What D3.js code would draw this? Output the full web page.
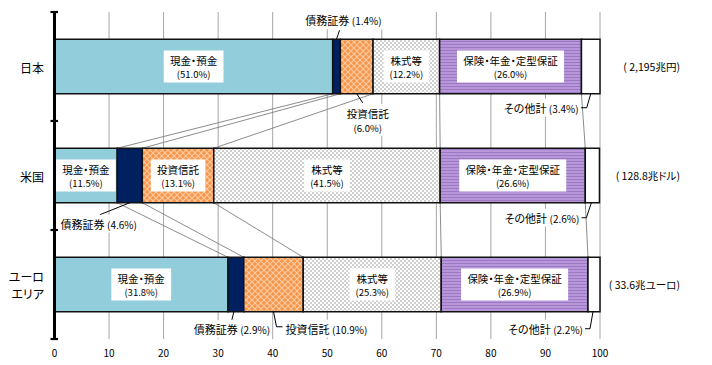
<!DOCTYPE html>
<html>
<head>
<meta charset="utf-8">
<script src="https://cdn.jsdelivr.net/npm/d3@7"></script>
<style>
  body { margin: 0; background: #fff; }
  svg text { font-family: "Noto Sans CJK JP", sans-serif; font-feature-settings: "palt"; fill: #000; }
</style>
</head>
<body>
<div id="chart"></div>
<script>
// data
const rows = ["日本", "米国", "ユーロエリア"];
const rowLabels = [["日本"], ["米国"], ["ユーロ", "エリア"]];
const seriesNames = ["現金・預金", "債務証券", "投資信託", "株式等", "保険・年金・定型保証", "その他計"];
const japan = [51.0, 1.4, 6.0, 12.2, 26.0, 3.4];
const us = [11.5, 4.6, 13.1, 41.5, 26.6, 2.6];
const euro = [31.8, 2.9, 10.9, 25.3, 26.9, 2.2];
const totals = ["( 2,195兆円)", "( 128.8兆ドル)", "( 33.6兆ユーロ)"];
const xTicks = [0, 10, 20, 30, 40, 50, 60, 70, 80, 90, 100];

const values = [japan, us, euro];

// size
const W = 712, H = 365;
const svg = d3.select("#chart").append("svg")
  .attr("width", W).attr("height", H);

const x = d3.scaleLinear().domain([0, 100]).range([54.5, 600]);
const y = d3.scaleBand().domain(rows).range([12, 339])
  .paddingInner(0.5).paddingOuter(0.25);

// patterns
const defs = svg.append("defs");
const pIT = defs.append("pattern").attr("id", "pat-it")
  .attr("patternUnits", "userSpaceOnUse").attr("width", 6).attr("height", 6);
pIT.append("rect").attr("width", 6).attr("height", 6).attr("fill", "#f7964a");
pIT.append("path").attr("d", "M0,0 L6,6 M6,0 L0,6")
  .attr("stroke", "#fcc9a0").attr("stroke-width", 1.2);

const pSt = defs.append("pattern").attr("id", "pat-st")
  .attr("patternUnits", "userSpaceOnUse").attr("width", 4).attr("height", 4);
pSt.append("rect").attr("width", 4).attr("height", 4).attr("fill", "#fff");
pSt.append("rect").attr("width", 2).attr("height", 2).attr("fill", "#cfcfcf");
pSt.append("rect").attr("x", 2).attr("y", 2).attr("width", 2).attr("height", 2).attr("fill", "#cfcfcf");

const pIn = defs.append("pattern").attr("id", "pat-in")
  .attr("patternUnits", "userSpaceOnUse").attr("width", 4).attr("height", 3);
pIn.append("rect").attr("width", 4).attr("height", 3).attr("fill", "#b796d9");
pIn.append("rect").attr("y", 2).attr("width", 4).attr("height", 1).attr("fill", "#9c79c3");

const fills = ["#92cddc", "#002060", "url(#pat-it)", "url(#pat-st)", "url(#pat-in)", "#ffffff"];

// grid
svg.append("g").selectAll("line").data(xTicks.slice(1)).join("line")
  .attr("x1", d => x(d)).attr("x2", d => x(d))
  .attr("y1", 12).attr("y2", 339)
  .attr("stroke", "#a6a6a6").attr("stroke-width", 1);

// stack
const segs = [];
values.forEach((vals, r) => {
  let acc = 0;
  vals.forEach((v, s) => {
    segs.push({ row: r, s: s, v: v, x0: acc, x1: Math.min(acc + v, 100) });
    acc += v;
  });
});

// series connector lines
const conn = svg.append("g");
for (let r = 0; r < rows.length - 1; r++) {
  let a = 0, b = 0;
  for (let s = 0; s < seriesNames.length - 1; s++) {
    a += values[r][s]; b += values[r + 1][s];
    conn.append("line")
      .attr("x1", x(a)).attr("y1", y(rows[r]) + y.bandwidth())
      .attr("x2", x(b)).attr("y2", y(rows[r + 1]))
      .attr("stroke", "#7f7f7f").attr("stroke-width", 0.9);
  }
}

// bars
svg.append("g").selectAll("rect").data(segs).join("rect")
  .attr("x", d => x(d.x0))
  .attr("y", d => y(rows[d.row]))
  .attr("width", d => x(d.x1) - x(d.x0))
  .attr("height", y.bandwidth())
  .attr("fill", d => fills[d.s])
  .attr("stroke", "#111").attr("stroke-width", 1.5);

// axis
const ax = svg.append("g");
ax.append("line").attr("x1", 54.5).attr("x2", 54.5).attr("y1", 12).attr("y2", 340)
  .attr("stroke", "#000").attr("stroke-width", 3);
const yEdges = [12, y(rows[1]) - y.step() * 0.25, y(rows[2]) - y.step() * 0.25, 339];
ax.selectAll(".tk").data(yEdges).join("line")
  .attr("x1", 50.5).attr("x2", 58)
  .attr("y1", d => d).attr("y2", d => d)
  .attr("stroke", "#000").attr("stroke-width", 2.2);

ax.selectAll(".xl").data(xTicks).join("text")
  .attr("x", d => x(d)).attr("y", 352)
  .attr("text-anchor", "middle").attr("dominant-baseline", "central")
  .attr("font-size", 10).text(d => d);

// row labels (one text element, lines as tspans)
rowLabels.forEach((lines, r) => {
  const cy = y(rows[r]) + y.bandwidth() / 2;
  const t = svg.append("text")
    .attr("text-anchor", "end").attr("dominant-baseline", "central")
    .attr("font-size", 12);
  lines.forEach((s, i) => {
    t.append("tspan").attr("x", 44)
      .attr("y", cy + (i - (lines.length - 1) / 2) * 17).text(s);
  });
});

// totals
totals.forEach((t, r) => {
  svg.append("text")
    .attr("x", 680).attr("y", y(rows[r]) + y.bandwidth() / 2)
    .attr("text-anchor", "end").attr("dominant-baseline", "central")
    .attr("font-size", 10.5).text(t);
});

function pct(v) { return "(" + v.toFixed(1) + "%)"; }

// inside labels: two lines in a white box
const inside = [[0, 3, 4], [0, 2, 3, 4], [0, 3, 4]];
const labG = svg.append("g");
segs.forEach(d => {
  if (!inside[d.row].includes(d.s)) return;
  const cx = x((d.x0 + d.x1) / 2);
  const cy = y(rows[d.row]) + y.bandwidth() / 2;
  const g = labG.append("g");
  const box = g.append("rect").attr("fill", "#fff");
  const t = g.append("text").attr("text-anchor", "middle")
    .attr("dominant-baseline", "central");
  t.append("tspan").attr("x", cx).attr("y", cy - 7)
    .attr("font-size", 10.5).text(seriesNames[d.s]);
  t.append("tspan").attr("x", cx).attr("y", cy + 7.5)
    .attr("font-size", 9.5).text(pct(d.v));
  const w = t.node().getBBox().width + 12;
  box.attr("x", cx - w / 2).attr("y", cy - 16).attr("width", w).attr("height", 32);
});

// callouts: anchor = segment middle at bar top ("t") or bottom ("b")
const callouts = [
  { row: 0, s: 1, edge: "t", leader: [[0, 0], [3, -9]], anchor: "middle", dx: 7, dy: -19, two: false },
  { row: 0, s: 2, edge: "b", leader: [[0, 0], [6, 9]], anchor: "middle", dx: 11, dy: 19, two: true },
  { row: 0, s: 5, edge: "b", leader: [[0, 0], [-4, 14], [-10, 14]], anchor: "end", dx: -12, dy: 14, two: false },
  { row: 1, s: 1, edge: "b", leader: [[0, 0], [-30, 12]], anchor: "middle", dx: -31, dy: 21, two: false },
  { row: 1, s: 5, edge: "b", leader: [[-1, 0], [-6, 15], [-11, 15]], anchor: "end", dx: -13, dy: 15, two: false },
  { row: 2, s: 1, edge: "b", leader: [[-2, 0], [-4, 8]], anchor: "middle", dx: -4, dy: 17.5, two: false },
  { row: 2, s: 2, edge: "b", leader: [[0, 0], [3, 15], [9, 15]], anchor: "start", dx: 12, dy: 17, two: false },
  { row: 2, s: 5, edge: "b", leader: [[-1, 0], [-4, 17], [-9, 17]], anchor: "end", dx: -11, dy: 17, two: false }
];

const coG = svg.append("g");
callouts.forEach(c => {
  const d = segs.find(e => e.row === c.row && e.s === c.s);
  const ax0 = x((d.x0 + d.x1) / 2);
  const ay0 = c.edge === "t" ? y(rows[c.row]) : y(rows[c.row]) + y.bandwidth();
  coG.append("path")
    .attr("d", d3.line()(c.leader.map(p => [ax0 + p[0], ay0 + p[1]])))
    .attr("fill", "none").attr("stroke", "#000").attr("stroke-width", 1);
  const g = coG.append("g");
  const box = g.append("rect").attr("fill", "#fff");
  const tx = ax0 + c.dx, ty = ay0 + c.dy;
  const t = g.append("text").attr("text-anchor", c.anchor)
    .attr("dominant-baseline", "central").attr("font-size", 11);
  if (c.two) {
    t.append("tspan").attr("x", tx).attr("y", ty).attr("font-size", 10.5).text(seriesNames[c.s]);
    t.append("tspan").attr("x", tx).attr("y", ty + 15).attr("font-size", 9.5).text(pct(d.v));
  } else {
    t.attr("x", tx).attr("y", ty);
    t.append("tspan").text(seriesNames[c.s] + " ");
    t.append("tspan").attr("font-size", 10).text(pct(d.v));
  }
  const bb = t.node().getBBox();
  box.attr("x", bb.x - 2).attr("y", bb.y - 1).attr("width", bb.width + 4).attr("height", bb.height + 2);
});
</script>
</body>
</html>
